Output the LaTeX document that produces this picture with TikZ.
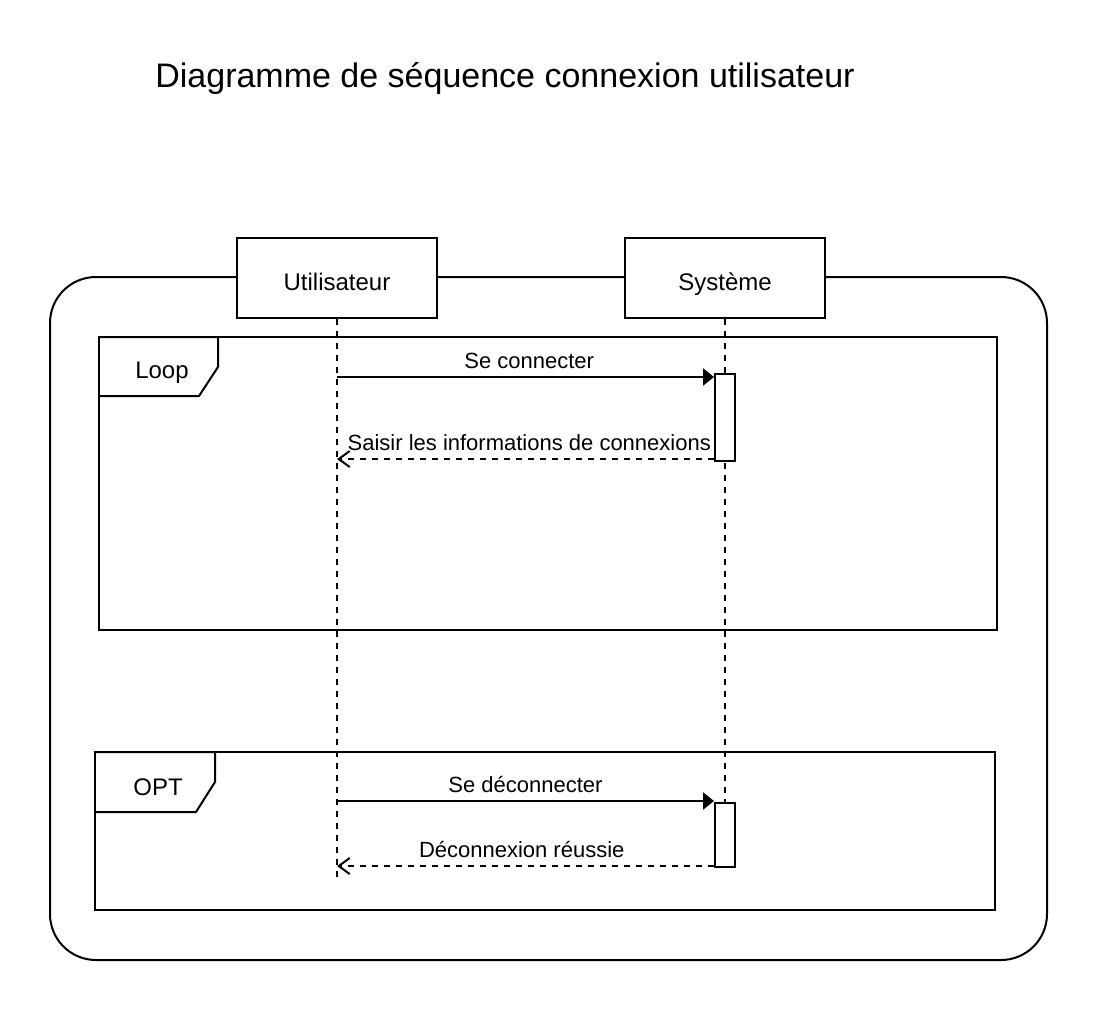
\documentclass[tikz,border=0pt]{standalone}
\usepackage{fontspec}
\setmainfont{Liberation Sans}
\usetikzlibrary{arrows.meta,calc}
\begin{document}
\begin{tikzpicture}[x=0.5pt,y=-0.5pt,
  line width=1pt,
  actor/.style={draw,fill=white,minimum width=100pt,minimum height=40pt,inner sep=0pt,text height=12.6pt,text depth=0pt,font=\fontsize{12}{14}\selectfont},
  actbox/.style={draw,fill=white,minimum width=10pt,inner sep=0pt},
  lifeline/.style={dash pattern=on 3pt off 3pt},
  tablabel/.style={font=\fontsize{12}{14}\selectfont,inner sep=0pt,anchor=base},
  msg/.style={-{Triangle[length=5.5pt,width=8.5pt]}},
  ret/.style={dash pattern=on 3pt off 3pt,-{Straight Barb[length=5.5pt,width=8pt]}},
  lbl/.style={font=\fontsize{11}{13}\selectfont,inner sep=0pt,above=4.2pt,anchor=base}
]
\useasboundingbox (0,0) rectangle (1098,1012);
% title
\node[font=\fontsize{17}{20}\selectfont,inner sep=0pt,anchor=base] (title) at (505,87) {Diagramme de séquence connexion utilisateur};
% outer rounded rectangle
\draw[rounded corners=23pt] (50,277) rectangle (1047,960);
% frames
\draw (99,337) rectangle (997,630);
\draw (99,337) -- (218,337) -- (218,367) -- (199,396) -- (99,396);
\node[tablabel] (loop) at (162,378) {Loop};
\draw (95,752) rectangle (995,910);
\draw (95,752) -- (215,752) -- (215,782) -- (196,812) -- (95,812);
\node[tablabel] (opt) at (158,795) {OPT};
% actors
\node[actor] (u) at (337,278) {Utilisateur};
\node[actor] (s) at (725,278) {Système};
\coordinate (uend) at (337,878);
\coordinate (send) at (725,866);
\draw[lifeline] (u.south) -- (uend);
\draw[lifeline] (s.south) -- (send);
% activations
\node[actbox,minimum height=43.5pt] (a1) at (725,417.5) {};
\node[actbox,minimum height=32pt] (a2) at (725,835) {};
% messages
\coordinate (m1) at (337,377);
\coordinate (r1) at (337,459);
\coordinate (m2) at (337,801);
\coordinate (r2) at (337,866);
\draw[msg] (m1) -- (m1 -| a1.west) node[lbl,pos=0.51] {Se connecter};
\draw[ret] (r1 -| a1.west) -- (r1) node[lbl,pos=0.49] {Saisir les informations de connexions};
\draw[msg] (m2) -- (m2 -| a2.west) node[lbl,pos=0.5] {Se déconnecter};
\draw[ret] (r2 -| a2.west) -- (r2) node[lbl,pos=0.51] {Déconnexion réussie};
\end{tikzpicture}
\end{document}
